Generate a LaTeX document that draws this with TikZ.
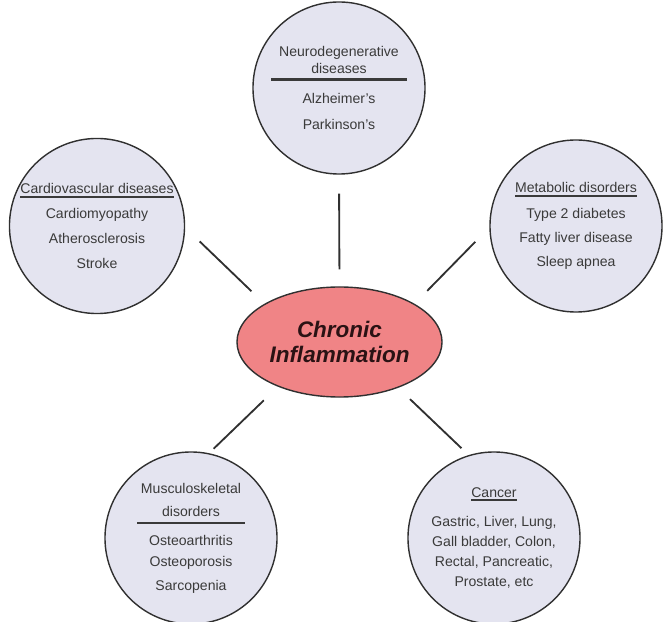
\documentclass[tikz,border=0pt]{standalone}
\usepackage{fontspec}
\setmainfont{Liberation Sans}
\usetikzlibrary{shapes.geometric}

\definecolor{discfill}{RGB}{228,228,240}
\definecolor{inflfill}{RGB}{240,132,134}
\definecolor{txtgray}{RGB}{58,58,58}
\definecolor{inkgray}{RGB}{48,48,48}
\definecolor{infltext}{RGB}{42,18,20}

% header with a heavy underline
\newcommand{\ulhead}[1]{\setbox0\hbox{#1}\leavevmode\rlap{\rule[-3pt]{\wd0}{1.5pt}}\box0}

\begin{document}
\begin{tikzpicture}[x=0.025cm, y=-0.025cm,
	disease/.style={shape=circle, draw=inkgray, line width=1pt, fill=discfill, minimum size=4.3cm, inner sep=0pt, align=center, text=txtgray, font=\fontsize{10}{12}\selectfont},
	link/.style={draw=inkgray, line width=1.3pt}]
	
			\useasboundingbox (0,0) rectangle (664,622);
	
			\node (infl)[shape=ellipse, draw=inkgray, line width=1pt, fill=inflfill, minimum width=5.125cm, minimum height=2.75cm, inner sep=0pt, align=center, text=infltext, font=\fontsize{16}{17.8}\selectfont\bfseries\itshape] 
			at (339.5,342){
				Chronic \\ Inflammation
			}; 
			
			\node (neuro)[disease] 
			at (339,88){
				Neurodegenerative \\ diseases \\[-7pt] \rule{3.375cm}{1.6pt} \\[4.3pt] Alzheimer’s \\[6.4pt] Parkinson’s
			}; 
			
			\node (cardio)[disease] 
			at (97,226){
				\ulhead{Cardiovascular diseases} \\[5.7pt] Cardiomyopathy \\[5.7pt] Atherosclerosis \\[5.7pt] Stroke
			}; 
			
			\node (metab)[disease] 
			at (576,226){
				\ulhead{Metabolic disorders} \\[6.5pt] Type 2 diabetes \\[5pt] Fatty liver disease \\[5pt] Sleep apnea
			}; 
			
			\node (musc)[disease] 
			at (191,538){
				Musculoskeletal \\[4.3pt] disorders \\[-6.3pt] \rule{2.68cm}{1.6pt} \\[3.2pt] Osteoarthritis \\[3.2pt] Osteoporosis \\[4.5pt] Sarcopenia
			}; 
			
			\node (cancer)[disease] 
			at (494,538){
				\ulhead{Cancer} \\[9.2pt] Gastric, Liver, Lung, \\[2.2pt] Gall bladder, Colon, \\[2.2pt] Rectal, Pancreatic, \\[2.2pt] Prostate, etc
			}; 
			
			\draw[link, shorten <=0.475cm, shorten >=0.425cm] (neuro.-90) -- (infl.90);
			\draw[link, shorten <=0.5cm, shorten >=0.45cm] (cardio.-1) -- (infl.153);
			\draw[link, shorten <=0.5cm, shorten >=0.45cm] (metab.181) -- (infl.27);
			\draw[link, shorten <=0.16cm, shorten >=0.49cm] (musc.78) -- (infl.216.5);
			\draw[link, shorten <=0.25cm, shorten >=0.41cm] (cancer.107) -- (infl.-38);
		\end{tikzpicture}
\end{document}
